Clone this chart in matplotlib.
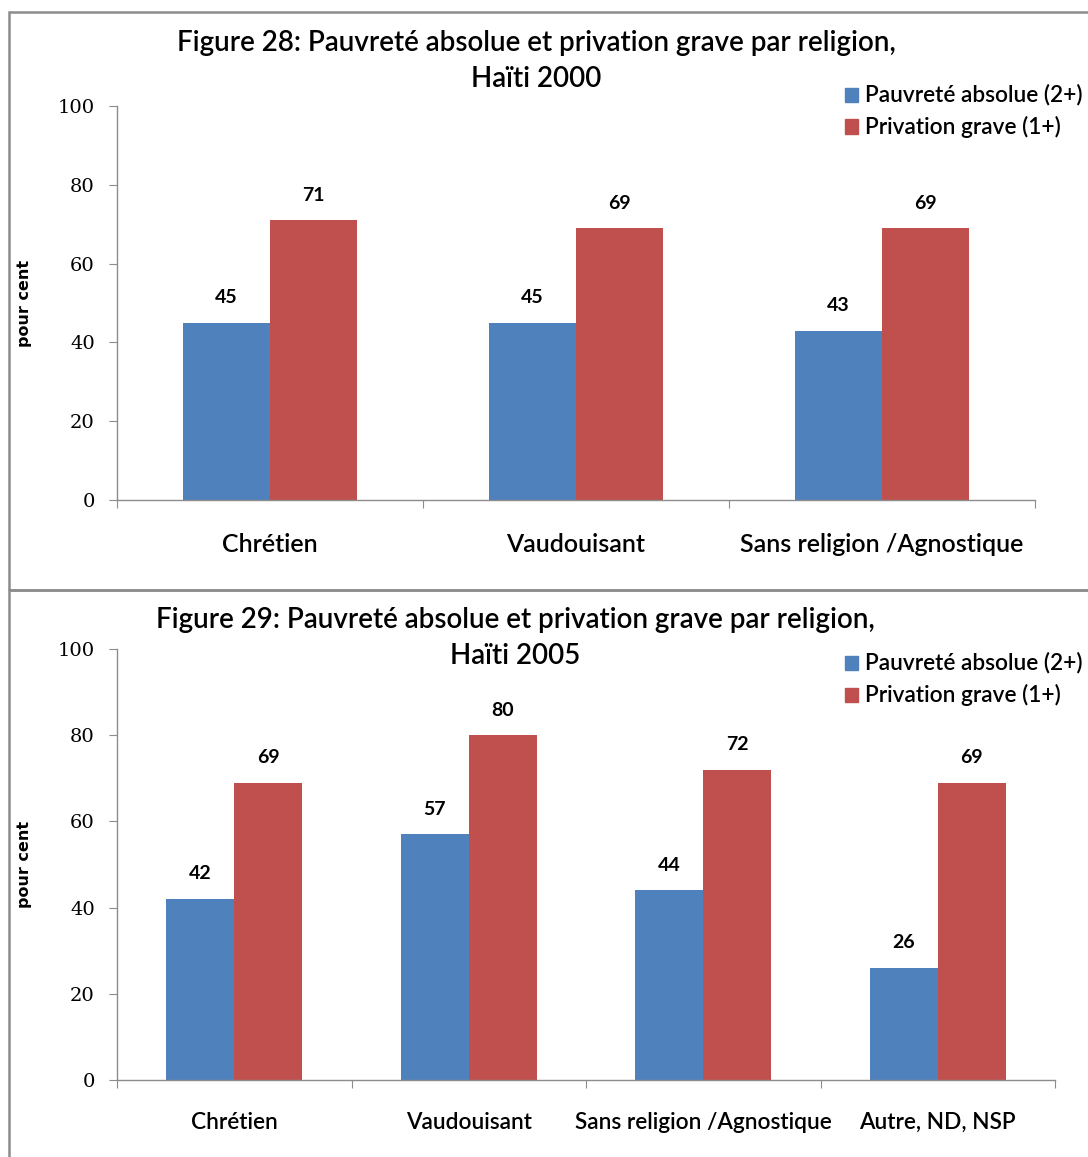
import matplotlib
matplotlib.use("Agg")
import matplotlib.pyplot as plt
from matplotlib.patches import Rectangle
import numpy as np

# Data
cats_2000 = ["Chrétien", "Vaudouisant", "Sans religion /Agnostique"]
abs_2000 = [45, 45, 43]
grave_2000 = [71, 69, 69]

cats_2005 = ["Chrétien", "Vaudouisant", "Sans religion /Agnostique", "Autre, ND, NSP"]
abs_2005 = [42, 57, 44, 26]
grave_2005 = [69, 80, 72, 69]

series_names = ["Pauvreté absolue (2+)", "Privation grave (1+)"]
yticks = [0, 20, 40, 60, 80, 100]

BLUE = "#4F81BD"
RED = "#C0504D"
SANS = "Lato"
SERIF = "DejaVu Serif"

fig = plt.figure(figsize=(10.88, 11.57), dpi=100)
W, H = 1088, 1157


def fx(px):
    return px / W


def fy(py):
    return 1 - py / H


# Panel frames
for (x0, y0, x1, y1) in [(9, 12, 1100, 590), (9, 590, 1100, 1170)]:
    fig.add_artist(Rectangle((fx(x0), fy(y1)), fx(x1) - fx(x0), fy(y0) - fy(y1),
                             transform=fig.transFigure, fill=False,
                             edgecolor="#8c8c8c", linewidth=1.8, clip_on=False))


def panel(rect, cats, a, g, title, ttl_xy, leg_xy, cat_fs, cat_pad, width):
    ax = fig.add_axes(rect)
    n = len(cats)
    x = np.arange(n)
    ax.bar(x - width / 2, a, width, color=BLUE, zorder=2)
    ax.bar(x + width / 2, g, width, color=RED, zorder=2)
    for off, vals in [(-width / 2, a), (width / 2, g)]:
        for xi, v in zip(x, vals):
            ax.annotate(str(v), (xi + off, v), xytext=(0, 18),
                        textcoords="offset points", ha="center", va="center",
                        fontsize=14, family=SANS, fontweight="bold")
    ax.set_xlim(-0.5, n - 0.5)
    ax.set_ylim(0, 100)
    ax.set_yticks(yticks)
    ax.set_yticklabels([str(t) for t in yticks], family=SERIF, fontsize=14)
    ax.set_xticks(np.arange(n + 1) - 0.5)
    ax.set_xticklabels([])
    ax.set_xticks(x, minor=True)
    ax.set_xticklabels(cats, minor=True, family=SANS, fontsize=cat_fs,
                       fontweight="semibold")
    ax.tick_params(axis="x", which="minor", length=0, pad=cat_pad)
    ax.tick_params(axis="x", which="major", length=6, color="#8c8c8c", direction="out")
    ax.tick_params(axis="y", length=6, color="#8c8c8c", direction="out", pad=10)
    for s in ["top", "right"]:
        ax.spines[s].set_visible(False)
    for s in ["left", "bottom"]:
        ax.spines[s].set_color("#8c8c8c")
        ax.spines[s].set_linewidth(1.0)
    ax.set_ylabel("pour cent", family="DejaVu Sans", fontsize=11.5,
                  fontweight="bold")
    ax.yaxis.set_label_coords(-85 / (rect[2] * W), 0.5)
    # Title
    fig.text(fx(ttl_xy[0]), fy(ttl_xy[1]), title, ha="center", va="center",
             family=SANS, fontsize=20, fontweight="semibold", linespacing=1.45)
    # Legend
    lx, ly = leg_xy
    for i, (nm, c) in enumerate(zip(series_names, [BLUE, RED])):
        yy = ly + i * 31.5
        fig.add_artist(Rectangle((fx(lx), fy(yy + 7)), fx(13), 14 / H,
                                 transform=fig.transFigure, color=c))
        fig.text(fx(lx + 20), fy(yy), nm, ha="left", va="center",
                 family=SANS, fontsize=16.3, fontweight="semibold")
    return ax


panel([fx(117), fy(500), fx(1035) - fx(117), fy(106) - fy(500)],
      cats_2000, abs_2000, grave_2000,
      "Figure 28: Pauvreté absolue et privation grave par religion,\nHaïti 2000",
      (536, 61), (845, 95), 18, 24, 0.285)

panel([fx(117), fy(1080), fx(1055) - fx(117), fy(649) - fy(1080)],
      cats_2005, abs_2005, grave_2005,
      "Figure 29: Pauvreté absolue et privation grave par religion,\nHaïti 2005",
      (515, 638), (845, 663), 16.3, 23, 0.29)

fig.savefig("out.png", dpi=100)
